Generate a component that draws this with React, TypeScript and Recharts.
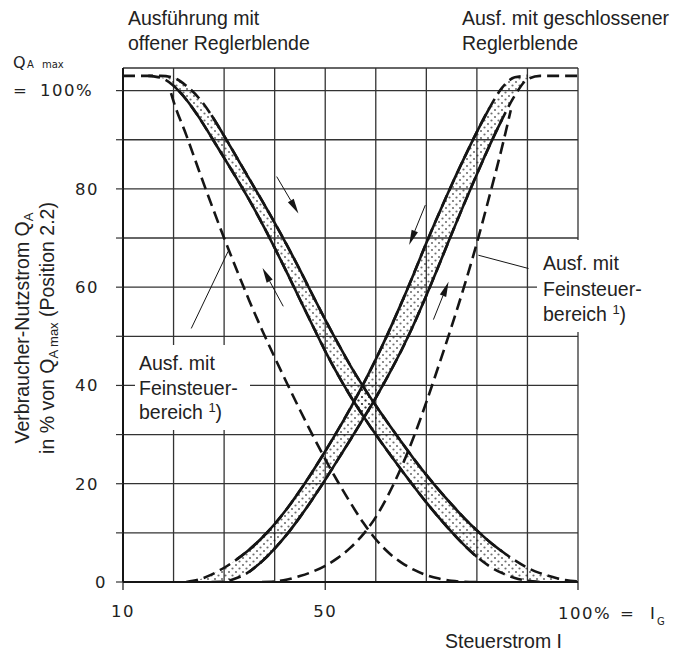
import React from 'react';
import {
  ComposedChart,
  Line,
  Area,
  XAxis,
  YAxis,
  CartesianGrid,
  ReferenceLine,
} from 'recharts';

// Steuerstrom I in % (common sample points for the two hysteresis bands)
const xSteps = [
  10, 12.5, 15, 17.5, 20, 22.5, 25, 27.5, 30, 32.5, 35, 37.5, 40, 42.5, 45, 47.5, 50, 52.5, 55,
  57.5, 60, 62.5, 65, 67.5, 70, 72.5, 75, 77.5, 80, 82.5, 85, 87.5, 90, 92.5, 95, 97.5, 100,
];

// open Reglerblende (falling band)
const fallUpper = [
  103, 103, 103, 103, 102.6, 101, 98.5, 95, 90.8, 86.4, 82, 77.6, 73.1, 68.4, 63.5, 58.4, 53.4, 48.6,
  44, 39.8, 35.9, 32.2, 28.6, 25.1, 21.8, 18.7, 15.8, 13, 10.5, 8.2, 6.2, 4.4, 2.9, 1.8, 1, 0.4, 0.1,
];
const fallLower = [
  103, 103, 103, 102.6, 101, 98.2, 94.6, 90.5, 86.3, 82.1, 77.7, 73, 68, 62.8, 57.5, 52.2, 47, 42.2,
  37.8, 33.8, 30, 26.4, 22.9, 19.5, 16.2, 13.1, 10.2, 7.5, 5.1, 3.2, 1.8, 0.8, 0.25, 0, 0, 0, 0,
];

// closed Reglerblende (rising band)
const riseUpper = [
  0, 0, 0, 0, 0, 0, 0.5, 1.5, 2.9, 4.6, 6.6, 9, 11.8, 15, 18.6, 22.5, 26.6, 30.9, 35.4, 40.2, 45.3,
  50.8, 56.6, 62.7, 69, 75, 80.8, 86.3, 91.6, 96.5, 100.6, 102.7, 103, 103, 103, 103, 103,
];
const riseLower = [
  0, 0, 0, 0, 0, 0, 0, 0, 0.1, 0.8, 2.1, 4.2, 6.8, 9.8, 13.2, 16.9, 20.8, 24.9, 29, 33.2, 37.5, 42.1,
  47, 52.4, 58.3, 64.5, 70.8, 77, 83, 88.8, 94.2, 99, 102.3, 103, 103, 103, 103,
];

// Feinsteuerbereich (dashed)
const fineFallX = [
  19.5, 20, 22.5, 25, 27.5, 30, 32.5, 35, 37.5, 40, 42.5, 45, 47.5, 50, 52.5, 55, 57.5, 60, 62.5,
  65, 67.5, 70, 72.5, 75, 77.5, 80,
];
const fineFallY = [
  99.5, 97.8, 91, 83.8, 76.8, 70, 63.5, 57.2, 51.3, 45.7, 40.3, 35, 29.9, 25, 20.4, 16.1, 12.1, 8.7,
  6, 4, 2.5, 1.4, 0.7, 0.25, 0.05, 0,
];
const fineRiseX = [
  37.5, 40, 42.5, 45, 47.5, 50, 52.5, 55, 57.5, 60, 62.5, 65, 67.5, 70, 72.5, 75, 77.5, 80, 82.5,
  85, 86.7,
];
const fineRiseY = [
  0, 0.1, 0.5, 1.2, 2.1, 3.3, 4.9, 7, 9.7, 13.2, 17.8, 23.2, 29.5, 36.6, 44.2, 52, 60.2, 69, 78.6,
  88.6, 96,
];

const xTicks = [10, 20, 30, 40, 50, 60, 70, 80, 90, 100];
const yTicks = [0, 10, 20, 30, 40, 50, 60, 70, 80, 90, 100];
const xLabelTicks = [10, 50];
const yLabelTicks = [0, 20, 40, 60, 80];

// direction arrows [x1, y1, x2, y2] and label leader lines
const arrows = [
  [40.4, 82.5, 44.7, 75],
  [41.7, 56.1, 37.6, 63.9],
  [69.8, 76.7, 66.6, 68.6],
  [71.4, 53.4, 74.4, 61.1],
];
const leaders = [
  [30.8, 67.3, 23.5, 51.6],
  [80.3, 66.5, 90.2, 63.8],
];

const pts = (xs: number[], ys: number[]) => xs.map((x, i) => ({ x, y: ys[i] }));
const band = (lo: number[], hi: number[]) => xSteps.map((x, i) => ({ x, range: [lo[i], hi[i]] }));
const within = (p: { x: number }[], a: number, b: number) => p.filter((d) => d.x >= a && d.x <= b);

const fallUp = pts(xSteps, fallUpper);
const fallLo = pts(xSteps, fallLower);
const riseUp = pts(xSteps, riseUpper);
const riseLo = pts(xSteps, riseLower);

const INK = '#151515';
const NUM_FONT = '"DejaVu Sans", sans-serif';
const TXT_FONT = '"Liberation Sans", Arial, sans-serif';

const XTick = (props: any) => {
  const { x, y, payload } = props;
  const v = payload.value;
  if (v === 100) {
    return (
      <g>
        <line x1={x} y1={y} x2={x} y2={y + 8} stroke={INK} strokeWidth={1.2} />
        <text x={x - 20} y={y + 37} fontFamily={NUM_FONT} fontSize={16.5} letterSpacing={1.5} fill="#222">
          100%
        </text>
        <text x={x + 42} y={y + 37} fontFamily={NUM_FONT} fontSize={16.5} fill="#222">
          =
        </text>
        <text x={x + 72} y={y + 37} fontFamily={NUM_FONT} fontSize={16.5} fill="#222">
          I
        </text>
        <text x={x + 79} y={y + 43} fontFamily={NUM_FONT} fontSize={10} fill="#222">
          G
        </text>
      </g>
    );
  }
  if (!xLabelTicks.includes(v)) return <g />;
  return (
    <g>
      <line x1={x} y1={y} x2={x} y2={y + 8} stroke={INK} strokeWidth={1.2} />
      <text x={x} y={y + 35} textAnchor="middle" fontFamily={NUM_FONT} fontSize={16.5} letterSpacing={1.5} fill="#222">
        {v}
      </text>
    </g>
  );
};

const YTick = (props: any) => {
  const { x, y, payload } = props;
  const v = payload.value;
  return (
    <g>
      <line x1={x - 7} y1={y} x2={x} y2={y} stroke="#333" strokeWidth={1.2} />
      {yLabelTicks.includes(v) && (
        <text
          x={v === 0 ? x - 16 : x - 24}
          y={y + 6}
          textAnchor="end"
          fontFamily={NUM_FONT}
          fontSize={16.5}
          letterSpacing={1.5}
          fill="#222"
        >
          {v}
        </text>
      )}
    </g>
  );
};

const ArrowShape = (props: any) => {
  const { x1, y1, x2, y2 } = props;
  if ([x1, y1, x2, y2].some((n) => typeof n !== 'number')) return <g />;
  const a = Math.atan2(y2 - y1, x2 - x1);
  const len = 15;
  const w = 3.4;
  const bx = x2 - len * Math.cos(a);
  const by = y2 - len * Math.sin(a);
  const p = `${x2},${y2} ${bx - w * Math.sin(a)},${by + w * Math.cos(a)} ${bx + w * Math.sin(a)},${by - w * Math.cos(a)}`;
  return (
    <g>
      <line x1={x1} y1={y1} x2={bx} y2={by} stroke={INK} strokeWidth={1} />
      <polygon points={p} fill={INK} />
    </g>
  );
};

const curve = {
  type: 'monotone' as const,
  stroke: INK,
  strokeWidth: 2.6,
  dot: false,
  activeDot: false,
  isAnimationActive: false,
};
const DASH = '12 6';

export default function App() {
  return (
    <div style={{ position: 'absolute', left: 0, top: 0, width: 689, height: 657, background: '#fff' }}>
      <ComposedChart width={689} height={657} margin={{ top: 68, right: 111, bottom: 45, left: 0 }}>
        <defs>
          <pattern id="dots" width="7" height="7" patternUnits="userSpaceOnUse">
            <circle cx="1.5" cy="1.5" r="1.1" fill="#111" />
            <circle cx="5" cy="5" r="1.1" fill="#111" />
          </pattern>
        </defs>
        <CartesianGrid stroke="#333" strokeWidth={1.3} />
        <XAxis
          dataKey="x"
          type="number"
          domain={[10, 100]}
          ticks={xTicks}
          interval={0}
          tick={<XTick />}
          tickSize={0}
          tickMargin={0}
          tickLine={false}
          height={30}
          axisLine={{ stroke: INK, strokeWidth: 2 }}
          allowDataOverflow
        />
        <YAxis
          type="number"
          domain={[0, 104.6]}
          ticks={yTicks}
          interval={0}
          tick={<YTick />}
          tickSize={0}
          tickMargin={0}
          tickLine={false}
          width={123}
          axisLine={{ stroke: INK, strokeWidth: 2 }}
          allowDataOverflow
        />

        <Area data={band(fallLower, fallUpper)} dataKey="range" type="monotone" stroke="none" fill="url(#dots)" isAnimationActive={false} activeDot={false} />
        <Area data={band(riseLower, riseUpper)} dataKey="range" type="monotone" stroke="none" fill="url(#dots)" isAnimationActive={false} activeDot={false} />

        {/* band boundaries: dashed at the ends, solid in the middle */}
        <Line {...curve} data={fallUp} dataKey="y" strokeDasharray={DASH} />
        <Line {...curve} data={within(fallLo, 15, 92.5)} dataKey="y" strokeDasharray={DASH} />
        <Line {...curve} data={within(riseUp, 22.5, 90)} dataKey="y" strokeDasharray={DASH} />
        <Line {...curve} data={within(riseLo, 27.5, 100)} dataKey="y" strokeDasharray={DASH} />
        <Line {...curve} data={within(fallUp, 27.5, 85)} dataKey="y" />
        <Line {...curve} data={within(fallLo, 20, 80)} dataKey="y" />
        <Line {...curve} data={within(riseUp, 32.5, 82.5)} dataKey="y" />
        <Line {...curve} data={within(riseLo, 35, 85)} dataKey="y" />

        {/* Feinsteuerbereich */}
        <Line {...curve} data={pts(fineFallX, fineFallY)} dataKey="y" strokeDasharray={DASH} />
        <Line {...curve} data={pts(fineRiseX, fineRiseY)} dataKey="y" strokeDasharray={DASH} />

        {arrows.map(([ax, ay, bx, by], i) => (
          <ReferenceLine key={'a' + i} segment={[{ x: ax, y: ay }, { x: bx, y: by }]} shape={(p: any) => <ArrowShape {...p} />} />
        ))}
        {leaders.map(([ax, ay, bx, by], i) => (
          <ReferenceLine key={'l' + i} segment={[{ x: ax, y: ay }, { x: bx, y: by }]} stroke={INK} strokeWidth={1} />
        ))}
      </ComposedChart>

      <svg width={689} height={657} style={{ position: 'absolute', left: 0, top: 0, pointerEvents: 'none' }}>
        <g fontFamily={TXT_FONT} fontSize={19.5} fill="#222">
          <text x={128} y={25}>Ausführung mit</text>
          <text x={128} y={50}>offener Reglerblende</text>
          <text x={462} y={25}>Ausf. mit geschlossener</text>
          <text x={462} y={50}>Reglerblende</text>

          <rect x={135} y={345} width={115} height={85} fill="#fff" />
          <text x={139} y={370}>Ausf. mit</text>
          <text x={139} y={395}>Feinsteuer-</text>
          <text x={139} y={419}>
            bereich <tspan fontSize={13} dy={-7}>1</tspan>
            <tspan dy={7}>)</tspan>
          </text>

          <rect x={537} y={240} width={152} height={92} fill="#fff" />
          <text x={543} y={270}>Ausf. mit</text>
          <text x={543} y={296}>Feinsteuer-</text>
          <text x={543} y={321}>
            bereich <tspan fontSize={13} dy={-7}>1</tspan>
            <tspan dy={7}>)</tspan>
          </text>

          <text x={445} y={648}>Steuerstrom I</text>

          <text transform="rotate(-90)" x={-328} y={29} textAnchor="middle">
            Verbraucher-Nutzstrom Q<tspan fontSize={13} dy={4}>A</tspan>
          </text>
          <text transform="rotate(-90)" x={-328} y={54} textAnchor="middle">
            in % von Q<tspan fontSize={13} dy={4}>A max</tspan>
            <tspan dy={-4}> (Position 2.2)</tspan>
          </text>
        </g>
        <g fontFamily={NUM_FONT} fill="#222">
          <text x={13} y={68} fontSize={16}>Q</text>
          <text x={27} y={68} fontSize={10}>A</text>
          <text x={42} y={68} fontSize={10}>max</text>
          <text x={13} y={96} fontSize={16.5}>=</text>
          <text x={40} y={96} fontSize={16.5} letterSpacing={1.5}>100%</text>
        </g>
      </svg>
    </div>
  );
}
